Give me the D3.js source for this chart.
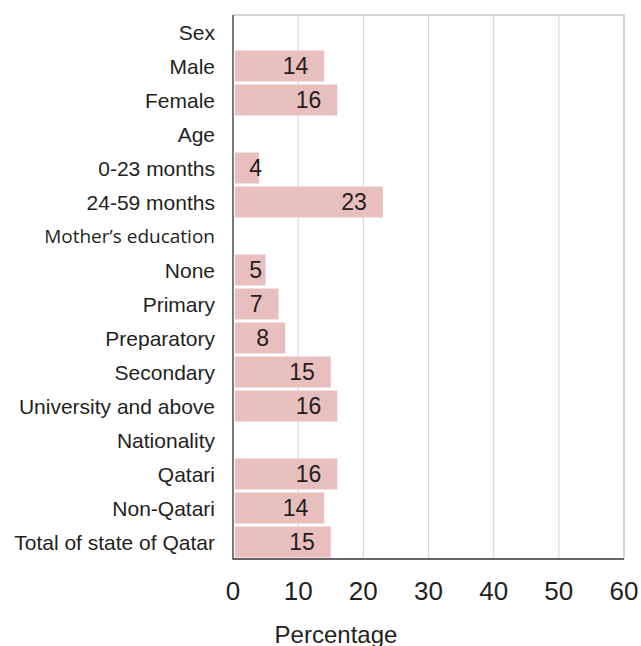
<!DOCTYPE html>
<meta charset="utf-8">
<style>
  body { margin: 0; background: #fff; }
  text { fill: #231f20; }
</style>
<body>
<script src="https://d3js.org/d3.v7.min.js"></script>
<script>
    // categories, top to bottom; headers have no value
    var categories = ["Sex", "Male", "Female", "Age", "0-23 months", "24-59 months",
        "Mother\u2019s education", "None", "Primary", "Preparatory", "Secondary",
        "University and above", "Nationality", "Qatari", "Non-Qatari", "Total of state of Qatar"];
    var values = [null, 14, 16, null, 4, 23, null, 5, 7, 8, 15, 16, null, 16, 14, 15];
    var xTicks = [0, 10, 20, 30, 40, 50, 60];

    var data = categories.map(function(c, i) { return {cat: c, value: values[i]}; });

    var svg = d3.select("body").append("svg")
        .attr("width", 641)
        .attr("height", 646);

    var plot = {left: 233, right: 624, top: 15, bottom: 559};

    var x = d3.scaleLinear().domain([0, 60]).range([plot.left, plot.right]);
    var y = d3.scaleBand().domain(categories).range([plot.top, plot.bottom]).paddingInner(0.09).paddingOuter(0.045);

    // grid
    svg.append("g").selectAll("line")
        .data(xTicks.slice(1, -1))
        .enter().append("line")
        .attr("x1", function(d) { return x(d); })
        .attr("x2", function(d) { return x(d); })
        .attr("y1", plot.top).attr("y2", plot.bottom)
        .attr("stroke", "#d9d9d9").attr("stroke-width", 1.2);

    // frame: light top/right, dark left/bottom
    svg.append("path")
        .attr("d", "M" + plot.left + "," + plot.top + "H" + plot.right + "V" + plot.bottom)
        .attr("fill", "none").attr("stroke", "#c8c8c8").attr("stroke-width", 1.5);
    svg.append("path")
        .attr("d", "M" + plot.left + "," + plot.top + "V" + plot.bottom + "H" + plot.right)
        .attr("fill", "none").attr("stroke", "#333").attr("stroke-width", 1.3);

    var rows = data.filter(function(d) { return d.value != null; });

    svg.append("g").selectAll("rect")
        .data(rows)
        .enter().append("rect")
        .attr("x", x(0) + 2)
        .attr("y", function(d) { return y(d.cat); })
        .attr("width", function(d) { return x(d.value) - x(0) - 2; })
        .attr("height", y.bandwidth())
        .attr("fill", "#e8bebe");

    svg.append("g").selectAll("text")
        .data(rows)
        .enter().append("text")
        .attr("x", function(d) { return Math.max(x(d.value) - 16, 262); })
        .attr("y", function(d) { return y(d.cat) + y.bandwidth() / 2; })
        .attr("dy", "0.36em")
        .attr("text-anchor", "end")
        .style("font-family", "Liberation Sans, Arial, sans-serif")
        .style("font-size", "23px")
        .text(function(d) { return d.value; });

    // category labels
    svg.append("g").selectAll("text")
        .data(data)
        .enter().append("text")
        .attr("x", 215)
        .attr("y", function(d) { return y(d.cat) + y.bandwidth() / 2; })
        .attr("dy", "0.36em")
        .attr("text-anchor", "end")
        .style("font-family", function(d) {
            return d.cat.indexOf("Mother") === 0 ? "Open Sans, sans-serif" : "Liberation Sans, Arial, sans-serif";
        })
        .style("font-size", function(d) { return d.cat.indexOf("Mother") === 0 ? "19px" : "21px"; })
        .text(function(d) { return d.cat; });

    // x tick labels
    svg.append("g").selectAll("text")
        .data(xTicks)
        .enter().append("text")
        .attr("x", function(d) { return x(d); })
        .attr("y", 600)
        .attr("text-anchor", "middle")
        .style("font-family", "Liberation Sans, Arial, sans-serif")
        .style("font-size", "26px")
        .text(function(d) { return d; });

    svg.append("text")
        .attr("x", 336)
        .attr("y", 643)
        .attr("text-anchor", "middle")
        .style("font-family", "Liberation Sans, Arial, sans-serif")
        .style("font-size", "24px")
        .text("Percentage");
</script>
</body>
